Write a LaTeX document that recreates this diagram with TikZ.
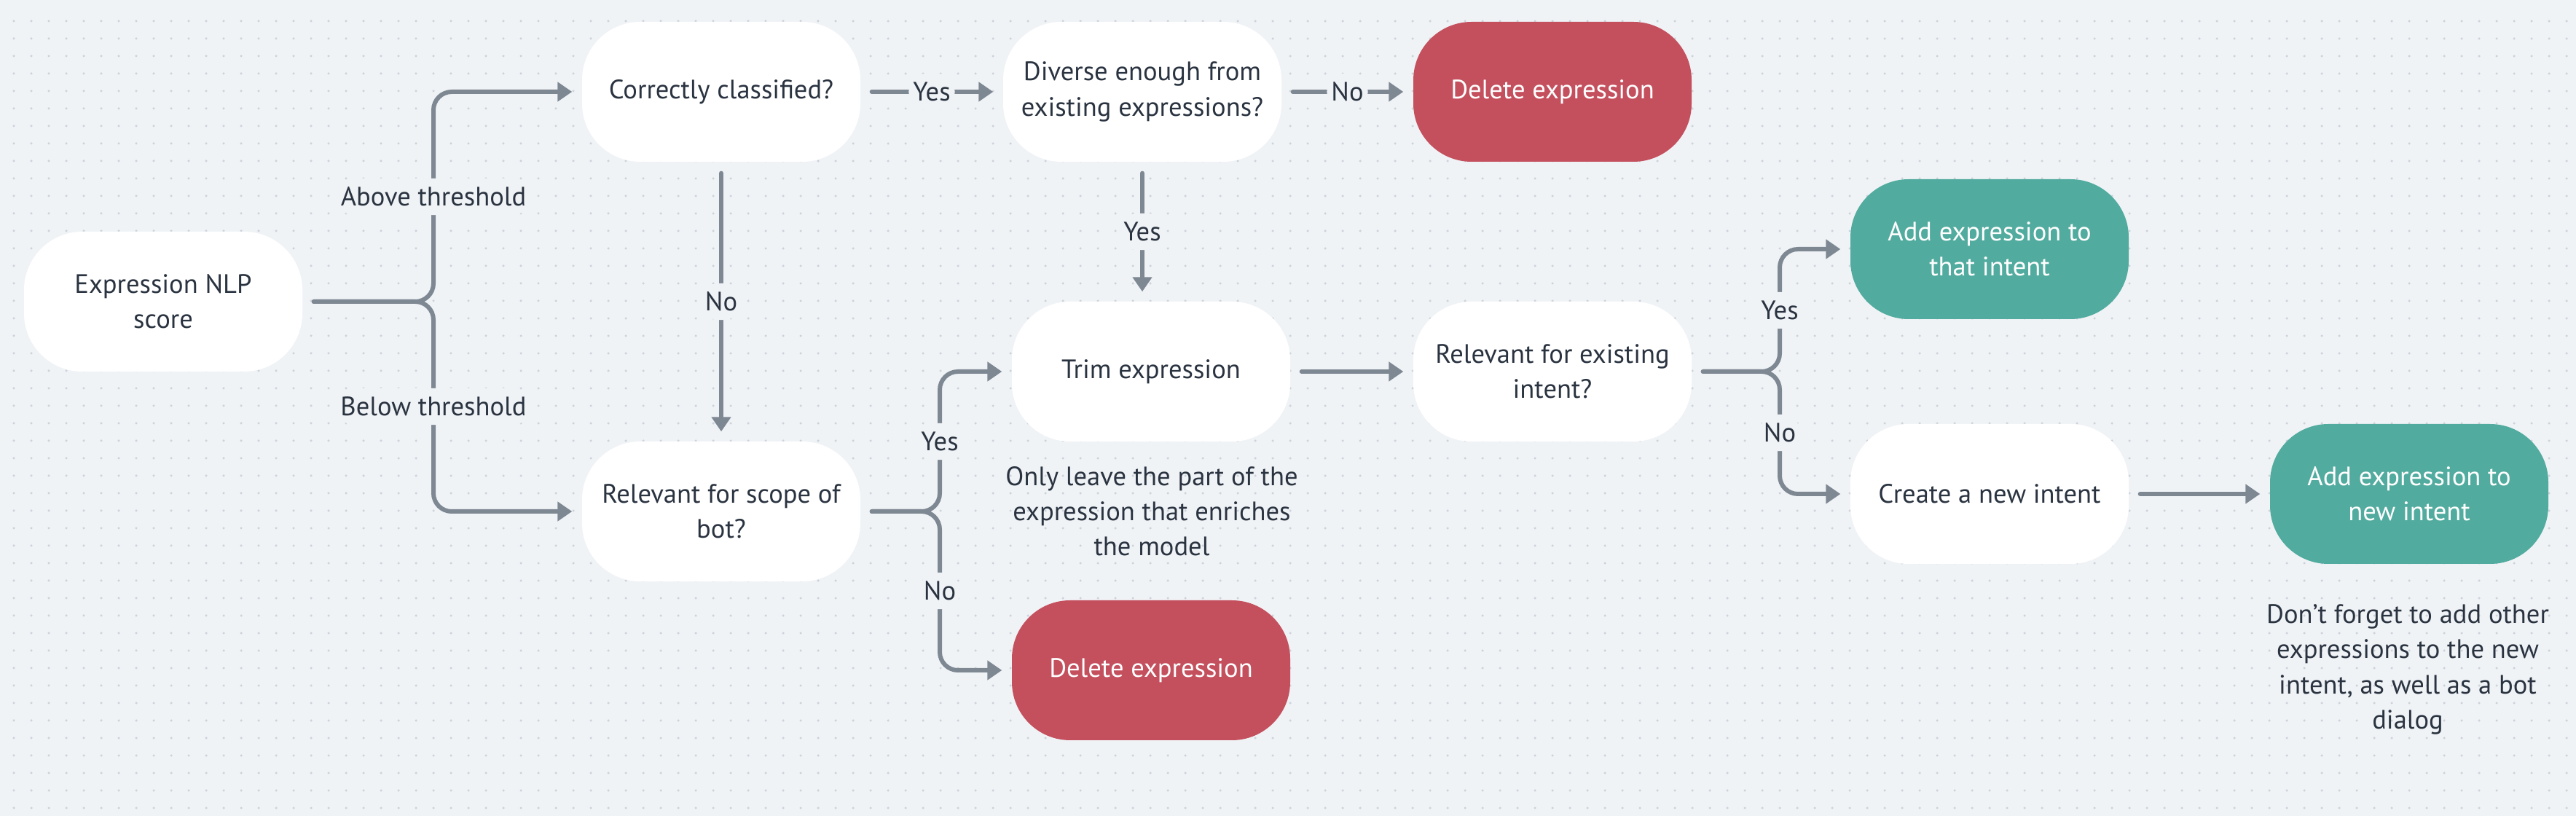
\documentclass[tikz,border=0pt]{standalone}
\usepackage{fontspec}
\setmainfont{PT Sans}
\usetikzlibrary{arrows.meta}
\definecolor{bg}{HTML}{F0F3F6}
\definecolor{dotc}{HTML}{CDD3DB}
\definecolor{linec}{HTML}{7E8893}
\definecolor{txt}{HTML}{2A3340}
\definecolor{redc}{HTML}{C4505E}
\definecolor{tealc}{HTML}{52AB9F}

\begin{document}
\begin{tikzpicture}[
  font=\fontsize{10.4}{13.7}\selectfont,
  box/.style={fill=white, text=txt, rounded corners=0.8cm, minimum width=3.82cm, minimum height=1.92cm, align=center},
  redbox/.style={box, fill=redc, text=white},
  tealbox/.style={box, fill=tealc, text=white},
  lbl/.style={fill=bg, text=txt, inner xsep=0.06cm, inner ysep=0.12cm},
  note/.style={text=txt, align=center},
  conn/.style={-{Triangle[length=0.2cm,width=0.26cm]}, line width=0.06cm, draw=linec, line cap=round, rounded corners=0.25cm, shorten <=0.15cm, shorten >=0.13cm}
]
\fill[bg] (0,0) rectangle (35.36,11.2);
\useasboundingbox (0,0) rectangle (35.36,11.2);
% dotted background
\foreach \y in {0.11,0.35,...,10.95}
  \draw[dotc, line width=0.035cm, line cap=round, dash pattern=on 0pt off 0.24cm] (0.19,\y) -- (35.36,\y);
\node[box] (score) at (2.24,7.06) {Expression NLP\\score};
\node[box] (classified) at (9.90,9.94) {Correctly classified?};
\node[box] (diverse) at (15.68,9.94) {Diverse enough from\\existing expressions?};
\node[redbox] (del1) at (21.31,9.94) {Delete expression};
\node[box] (trim) at (15.80,6.10) {Trim expression};
\node[box] (existing) at (21.31,6.10) {Relevant for existing\\intent?};
\node[box] (scope) at (9.90,4.18) {Relevant for scope of\\bot?};
\node[redbox] (del2) at (15.80,2.00) {Delete expression};
\node[tealbox] (addthat) at (27.31,7.78) {Add expression to\\that intent};
\node[box] (newint) at (27.31,4.42) {Create a new intent};
\node[tealbox] (addnew) at (33.07,4.42) {Add expression to\\new intent};
\node[note] (trimnote) at (15.81,4.18) {Only leave the part of the\\expression that enriches\\the model};
\node[note] (addnote) at (33.05,2.01) {Don't forget to add other\\expressions to the new\\intent, as well as a bot\\dialog};
\coordinate (b1) at (5.95,0);
\coordinate (b2) at (12.90,0);
\coordinate (b3) at (24.43,0);
% Arrows
\draw[conn] (score.east) -| node[lbl,pos=0.75] {Above threshold} (b1 |- classified.west) -- (classified.west);
\draw[conn] (score.east) -| node[lbl,pos=0.75] {Below threshold} (b1 |- scope.west) -- (scope.west);
\draw[conn] (classified) -- node[lbl] {No} (scope);
\draw[conn] (classified) -- node[lbl] {Yes} (diverse);
\draw[conn] (diverse) -- node[lbl] {No} (del1);
\draw[conn] (diverse.south) -- node[lbl] {Yes} (diverse.south |- trim.north);
\draw[conn] (scope.east) -| node[lbl,pos=0.75] {Yes} (b2 |- trim.west) -- (trim.west);
\draw[conn] (scope.east) -| node[lbl,pos=0.75] {No} (b2 |- del2.west) -- (del2.west);
\draw[conn] (trim) -- (existing);
\draw[conn] (existing.east) -| node[lbl,pos=0.75] {Yes} (b3 |- addthat.west) -- (addthat.west);
\draw[conn] (existing.east) -| node[lbl,pos=0.75] {No} (b3 |- newint.west) -- (newint.west);
\draw[conn] (newint) -- (addnew);
\end{tikzpicture}
\end{document}
